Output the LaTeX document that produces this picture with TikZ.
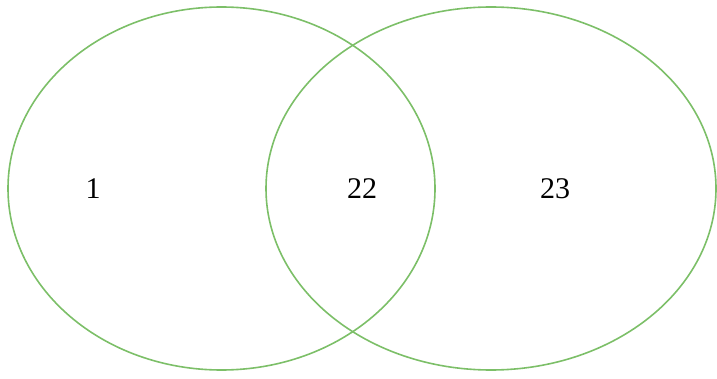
\documentclass[tikz,border=0pt]{standalone}
\usepackage{fontspec}
\setmainfont{Liberation Serif}
\usepackage{xcolor}
\usepackage{tikz}
\definecolor{setgreen}{HTML}{7CBF68}
\tikzset{
  setline/.style={draw=setgreen,line width=1.6pt},
  num/.style={font=\fontsize{30}{35}\selectfont,inner sep=0pt,anchor=center}
}
\begin{document}
\begin{tikzpicture}[x=1pt,y=1pt]
\useasboundingbox (0,0) rectangle (717,378);
\coordinate (A) at (221.5,189.5); \coordinate (B) at (491,189.5);
\draw[setline] (A) ellipse [x radius=213.5,y radius=181.5];
\draw[setline] (B) ellipse [x radius=225,y radius=181.5];
\node[num] (onlyA) at (93,189) {1};
\node[num] (both) at (362,189) {22};
\node[num] (onlyB) at (555,189) {23};
\end{tikzpicture}
\end{document}
